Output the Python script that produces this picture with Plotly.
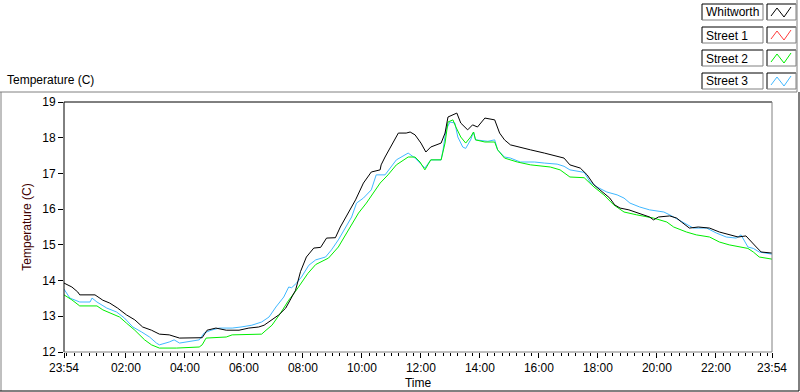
import plotly.graph_objects as go
from datetime import datetime, timedelta

# ---------------- data (clock time, temperature in C) ----------------
whit_time = ["23:54","00:10","00:22","00:26","00:57","01:13","01:27","01:43","02:01","02:18",
             "02:34","02:52","03:08","03:28","03:49","04:29","04:35","04:45","05:03","05:24",
             "05:50","06:10","06:30","06:41","06:57","07:11","07:25","07:37","07:45","07:55",
             "08:07","08:22","08:36","08:48","09:06","09:16","09:32","09:47","10:03","10:19",
             "10:37","10:39","10:47","10:59","11:14","11:30","11:38","11:48","12:00","12:10",
             "12:20","12:41","12:49","12:55","13:05","13:13","13:21","13:35","13:45","13:55",
             "14:10","14:30","14:40","14:50","15:02","15:22","15:43","16:11","16:37","16:51",
             "17:03","17:24","17:38","17:52","18:04","18:24","18:34","18:45","19:03","19:23",
             "19:45","19:53","20:03","20:26","20:40","20:50","21:06","21:24","21:47","22:07",
             "22:27","22:45","23:01","23:08","23:22","23:32","23:54"]
whit_temp = [13.93,13.82,13.68,13.60,13.60,13.45,13.37,13.23,13.04,12.90,
             12.70,12.61,12.50,12.48,12.39,12.39,12.40,12.61,12.67,12.61,
             12.61,12.67,12.70,12.75,12.90,13.04,13.23,13.55,13.73,14.25,
             14.66,14.91,14.93,15.19,15.20,15.50,15.89,16.26,16.73,17.04,
             17.10,17.24,17.46,17.75,18.13,18.13,18.16,18.08,17.85,17.60,
             17.74,17.85,18.13,18.58,18.64,18.69,18.41,18.22,18.36,18.30,
             18.55,18.50,18.13,17.94,17.80,17.74,17.66,17.57,17.49,17.43,
             17.24,17.15,16.96,16.68,16.54,16.31,16.12,16.03,15.98,15.89,
             15.78,15.70,15.78,15.81,15.75,15.64,15.47,15.50,15.47,15.36,
             15.28,15.22,15.25,15.14,14.94,14.80,14.77]

# Street 1 has no visible trace in the reference
st1_time = []
st1_temp = []

st2_time = ["23:54","00:10","00:26","01:01","01:13","01:47","02:01","02:18","02:38","02:52",
            "03:08","03:43","04:29","04:35","04:43","05:24","05:36","06:36","06:45","06:57",
            "07:15","07:31","07:45","07:57","08:10","08:26","08:52","09:12","09:32","09:53",
            "10:09","10:27","10:37","10:53","11:10","11:34","11:48","11:58","12:08","12:14",
            "12:20","12:41","12:49","12:55","13:05","13:11","13:21","13:31","13:41","13:47",
            "13:51","14:10","14:30","14:36","14:50","15:16","15:43","16:23","16:43","17:03",
            "17:32","17:52","18:12","18:32","18:53","19:19","19:53","20:20","20:34","21:00",
            "21:20","21:47","22:07","22:27","22:47","23:05","23:16","23:28","23:54"]
st2_temp = [13.60,13.46,13.29,13.29,13.18,12.98,12.81,12.61,12.34,12.20,
            12.11,12.11,12.14,12.20,12.39,12.42,12.48,12.50,12.61,12.75,
            13.10,13.45,13.70,13.95,14.20,14.45,14.63,14.94,15.42,15.89,
            16.17,16.54,16.73,16.96,17.24,17.46,17.46,17.32,17.10,17.24,
            17.38,17.38,17.85,18.44,18.50,18.30,18.02,17.85,18.02,18.16,
            17.94,17.88,17.88,17.66,17.43,17.32,17.24,17.18,17.10,16.90,
            16.88,16.62,16.40,16.12,15.92,15.84,15.75,15.64,15.50,15.36,
            15.28,15.22,15.08,15.00,14.94,14.90,14.80,14.66,14.60]

st3_time = ["23:54","00:06","00:26","00:47","00:51","01:01","01:21","01:41","01:57","02:14",
            "02:32","02:48","03:02","03:08","03:28","03:38","03:49","04:15","04:29","04:39",
            "04:53","05:10","05:36","05:54","06:16","06:36","06:51","07:05","07:21","07:31",
            "07:37","07:47","07:57","08:12","08:26","08:46","08:58","09:12","09:26","09:39",
            "09:49","10:03","10:19","10:29","10:47","10:59","11:10","11:34","11:48","12:08",
            "12:20","12:41","12:45","12:51","12:59","13:09","13:15","13:25","13:31","13:41",
            "13:47","13:51","14:16","14:30","14:36","14:50","15:02","15:22","15:51","16:11",
            "16:37","16:51","17:03","17:32","17:44","17:58","18:18","18:39","18:53","19:05",
            "19:25","19:45","20:14","20:26","20:54","21:14","21:41","22:01","22:21","22:41",
            "22:51","22:57","23:05","23:16","23:28","23:54"]
st3_temp = [13.76,13.51,13.40,13.40,13.51,13.40,13.23,13.12,12.95,12.70,
            12.56,12.42,12.25,12.20,12.28,12.34,12.25,12.31,12.34,12.53,
            12.61,12.67,12.67,12.70,12.75,12.84,12.98,13.26,13.54,13.82,
            13.80,13.93,14.10,14.43,14.58,14.66,14.86,15.14,15.47,15.78,
            16.17,16.31,16.54,16.96,16.96,17.18,17.38,17.57,17.43,17.15,
            17.38,17.38,17.66,18.22,18.44,18.41,18.02,17.74,17.70,17.94,
            18.16,17.94,17.90,17.94,17.66,17.46,17.43,17.32,17.32,17.29,
            17.26,17.20,17.10,17.03,16.76,16.62,16.48,16.40,16.31,16.17,
            16.06,15.98,15.92,15.84,15.61,15.47,15.47,15.33,15.22,15.19,
            15.28,15.14,14.94,14.90,14.80,14.74]

series_names = ["Whitworth", "Street 1", "Street 2", "Street 3"]
series_colors = ["#000000", "#ff3c3c", "#00ee00", "#40b8ff"]

x_tick_labels = ["23:54","02:00","04:00","06:00","08:00","10:00","12:00",
                 "14:00","16:00","18:00","20:00","22:00","23:54"]
y_ticks = [12, 13, 14, 15, 16, 17, 18, 19]


def to_dt(times):
    base = datetime(2023, 1, 1)
    out, day, prev = [], 0, None
    for t in times:
        h, m = map(int, t.split(":"))
        mins = h * 60 + m
        if prev is not None and mins < prev:
            day += 1
        prev = mins
        out.append(base + timedelta(days=day, minutes=mins))
    return out


FONT = "Liberation Sans"
W, H = 800, 392
L, R, T, B = 64, 772, 102, 352


def px(x):
    return (x - L) / (R - L)


def py(y):
    return (B - y) / (B - T)


fig = go.Figure()
data = [(whit_time, whit_temp), (st1_time, st1_temp), (st2_time, st2_temp), (st3_time, st3_temp)]
order = [3, 1, 2, 0]
for i in order:
    t, v = data[i]
    fig.add_trace(go.Scatter(x=to_dt(t), y=v, mode="lines", name=series_names[i],
                             line=dict(color=series_colors[i], width=1), showlegend=False))

xt = to_dt(x_tick_labels)
minor_vals = []
m = xt[0] + timedelta(minutes=6)
while m < xt[-1]:
    minor_vals.append(m)
    m += timedelta(minutes=15)

fig.update_layout(
    width=W, height=H,
    margin=dict(l=L, r=W - R, t=T, b=H - B, pad=0),
    paper_bgcolor="white", plot_bgcolor="white",
    font=dict(family=FONT, size=12, color="#000000"),
    showlegend=False,
)
fig.update_xaxes(
    automargin=False,
    range=[xt[0], xt[-1]], tickmode="array", tickvals=xt, ticktext=x_tick_labels,
    ticks="outside", ticklen=5, tickcolor="#000000", tickwidth=1,
    showgrid=False, zeroline=False, showline=False,
    tickfont=dict(family=FONT, size=12, color="#000000"),
    minor=dict(tickmode="array", tickvals=minor_vals, ticks="outside", ticklen=3,
               tickcolor="#000000", tickwidth=1, showgrid=False),
    title=dict(text="Time", font=dict(family=FONT, size=12, color="#000000"), standoff=4),
)
fig.update_yaxes(
    automargin=False,
    range=[12, 19], tickmode="array", tickvals=y_ticks,
    ticks="outside", ticklen=5, tickcolor="#000000", tickwidth=1,
    showgrid=False, zeroline=False, showline=False,
    tickfont=dict(family=FONT, size=12, color="#000000"),
    title=dict(text="Temperature (C)", font=dict(family=FONT, size=12, color="#400000"), standoff=8),
)

shapes = []


def line(x0, y0, x1, y1, color, w=1):
    shapes.append(dict(type="line", xref="paper", yref="paper",
                       x0=px(x0), y0=py(y0), x1=px(x1), y1=py(y1),
                       line=dict(color=color, width=w), layer="above"))


# plot border (sunken look)
line(L, T, R, T, "#000000")
line(L, T, L, B, "#000000")
line(R, T, R, B, "#808080")
line(L, B, R, B, "#808080")

# outer panel frame
line(1, 92, 1, 391, "#808080")
line(0, 92, 797, 92, "#808080")
line(797, 0, 797, 92, "#808080")
line(799, 92, 799, 391, "#000000")
line(0, 391, 799, 391, "#000000")

annotations = [dict(text="Temperature (C)", xref="paper", yref="paper", x=px(5), y=py(80),
                    xanchor="left", yanchor="middle", showarrow=False,
                    font=dict(family=FONT, size=12, color="#000000"))]

# legend (drawn as boxes)
for k, name in enumerate(series_names):
    top = 4 + k * 23
    bot = top + 16
    line(702, top, 763, top, "#000000")
    line(702, top, 702, bot, "#000000")
    line(763, top, 763, bot, "#808080")
    line(702, bot, 763, bot, "#808080")
    annotations.append(dict(text=name, xref="paper", yref="paper", x=px(704), y=py((top + bot) / 2 + 0.5),
                            xanchor="left", yanchor="middle", showarrow=False,
                            font=dict(family=FONT, size=12, color="#000000")))
    line(767, top, 796, top, "#000000")
    line(767, top, 767, bot, "#000000")
    line(796, top, 796, bot, "#808080")
    line(767, bot, 796, bot, "#808080")
    pts = [(771, bot - 4), (777, top + 4), (784, bot - 3), (791, top + 3)]
    path = "M " + " L ".join(f"{px(a)},{py(b)}" for a, b in pts)
    shapes.append(dict(type="path", xref="paper", yref="paper", path=path,
                       line=dict(color=series_colors[k], width=1), layer="above"))

fig.update_layout(shapes=shapes, annotations=annotations)
fig.write_html("out.html", config={"displayModeBar": False},
               post_script="document.body.style.margin='0px';")
